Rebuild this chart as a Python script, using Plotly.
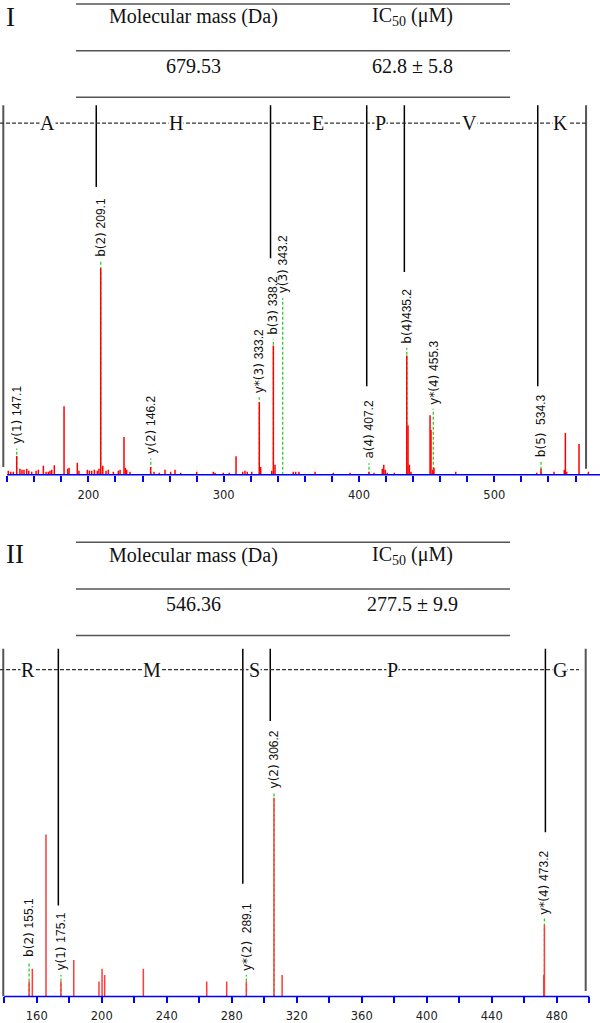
import plotly.graph_objects as go

W, H = 600, 1023

# ---------------- Panel I data ----------------
peaks1_mz = [140.8, 142.6, 144.5, 147.0, 149.4, 150.9, 152.4, 154.4, 155.9, 158.1, 161.3, 163.0,
             166.7, 168.7, 170.4, 171.6, 172.9, 174.8, 182.0, 184.7, 185.7, 191.8, 193.0, 199.2,
             200.7, 202.4, 204.4, 206.6, 207.8, 209.1, 210.6, 213.0, 214.7, 218.4, 222.1, 223.4,
             226.3, 227.3, 228.3, 230.7, 246.0, 248.5, 252.4, 256.6, 260.8, 264.0, 268.2, 280.0,
             292.3, 293.6, 299.7, 304.1, 309.1, 314.0, 315.7, 317.4, 320.7, 326.3, 327.3, 335.5,
             336.7, 337.9, 351.4, 353.2, 355.6, 367.5, 381.0, 393.4, 407.4, 411.1, 417.2, 418.3,
             419.4, 420.9, 426.1, 435.3, 436.2, 437.2, 438.4, 452.5, 453.2, 454.5, 455.4, 471.5,
             531.3, 534.5, 544.1, 551.7, 552.5, 553.5, 562.6, 569.5]
peaks1_int = [1.9, 1.4, 1.4, 9.1, 2.9, 2.4, 2.4, 2.9, 1.9, 1.4, 1.9, 2.4,
              4.3, 1.4, 1.4, 1.9, 2.4, 4.6, 33.2, 2.9, 3.4, 5.8, 1.9, 2.4,
              1.9, 1.9, 2.4, 1.9, 2.9, 100.0, 4.3, 1.9, 2.4, 1.4, 1.9, 2.4,
              18.3, 3.4, 2.4, 1.4, 3.8, 1.4, 1.0, 2.4, 1.4, 2.4, 1.0, 1.4,
              1.4, 1.0, 1.0, 1.0, 8.9, 1.4, 1.9, 1.4, 1.4, 35.1, 3.8, 1.9,
              62.5, 4.8, 1.4, 1.4, 1.4, 1.4, 1.0, 1.0, 1.5, 1.0, 2.9, 4.8,
              2.4, 1.0, 1.0, 57.7, 24.0, 4.8, 1.4, 28.8, 21.6, 2.4, 3.4, 1.4,
              1.0, 2.9, 1.4, 2.4, 20.2, 1.4, 14.9, 1.4]

ann1_ion = ["y(1)", "b(2)", "y(2)", "y*(3)", "b(3)", "y(3)", "a(4)", "b(4)", "y*(4)", "b(5)"]
ann1_val = ["147.1", "209.1", "146.2", "333.2", "338.2", "343.2", "407.2", "435.2", "455.3", "534.3"]
ann1_mz = [147.0, 209.1, 246.1, 326.3, 336.7, 343.6, 407.4, 435.3, 454.9, 534.5]

frag1_mz = [205.8, 334.6, 405.7, 433.5, 532.1]
border1_mz = [137.1, 567.8]
residues1 = ["A", "H", "E", "P", "V", "K"]
residue1_mz = [170.0, 264.7, 369.7, 416.2, 482.0, 548.6]
table1_head = ["Molecular mass (Da)", "IC<sub>50</sub> (μM)"]
table1_vals = ["679.53", "62.8 ± 5.8"]

# ---------------- Panel II data ----------------
peaks2_mz = [155.3, 157.3, 165.7, 174.9, 182.8, 198.3, 200.2, 201.8, 225.6, 264.6, 276.9,
             289.0, 306.0, 311.0, 472.0, 472.4]
peaks2_int = [7.5, 14.0, 81.5, 7.5, 18.3, 7.5, 14.0, 10.8, 14.0, 7.5, 7.5,
              7.5, 100.0, 10.8, 10.8, 35.8]

ann2_ion = ["b(2)", "y(1)", "y*(2)", "y(2)", "y*(4)"]
ann2_val = ["155.1", "175.1", "289.1", "306.2", "473.2"]
ann2_mz = [155.3, 174.9, 289.0, 306.0, 472.4]

frag2_mz = [173.3, 286.8, 303.7, 473.0]
border2_mz = [139.4, 497.8]
residues2 = ["R", "M", "S", "P", "G"]
residue2_mz = [154.8, 230.8, 293.7, 379.1, 482.0]
table2_head = ["Molecular mass (Da)", "IC<sub>50</sub> (μM)"]
table2_vals = ["546.36", "277.5 ± 9.9"]

# ---------------- layout (positions / styles) ----------------
P1 = dict(base=478.0, scale=2.08, ytop=180.0, xr=[134.66, 578.1], axis_end=578.1,
          label_lvl=[14.3, 105.1, 9.5, 39.1, 67.2, 87.2, 7.1, 63.1, 33.5, 7.8],
          sep=[" ", " ", " ", " ", " ", " ", " ", "", " ", "  "],
          frag_bottom=[139.3, 104.8, 42.8, 98.1, 42.8], frag_top=178.8,
          border_bottom=[3.8, 2.9], dash_y=170.2, dash_end=567.8,
          dtick=100, table_y=[4, 51, 98], head_y=17, val_y=66, roman="I", roman_y=17,
          peak_color="#ff0000")
P2 = dict(base=1003.3, scale=2.0, ytop=177.0, xr=[137.4, 506.6], axis_end=500.0,
          label_lvl=[19.2, 12.5, 12.5, 104.2, 40.8],
          sep=[" ", " ", "  ", " ", " "],
          frag_bottom=[45.8, 56.7, 138.7, 82.7], frag_top=175.0,
          border_bottom=[0.0, 2.7], dash_y=164.5, dash_end=493.7,
          dtick=40, table_y=[546, 593, 640], head_y=559, val_y=608, roman="II", roman_y=558,
          peak_color="#ff3b3b")

fig = go.Figure()
shapes = []
annotations = []

def py(px):
    return 1 - px / H

panels = [
    (P1, "x", "y", peaks1_mz, peaks1_int, ann1_ion, ann1_val, ann1_mz, frag1_mz, border1_mz,
     residues1, residue1_mz, table1_head, table1_vals),
    (P2, "x2", "y2", peaks2_mz, peaks2_int, ann2_ion, ann2_val, ann2_mz, frag2_mz, border2_mz,
     residues2, residue2_mz, table2_head, table2_vals),
]

for (P, xa, ya, pmz, pint, aion, aval, amz, fmz, bmz, res, resmz, thead, tvals) in panels:
    # green dashed guides (drawn under the red peaks)
    gx, gy = [], []
    for m, lv in zip(amz, P["label_lvl"]):
        gx += [m, m, None]
        gy += [0, lv - 1.6, None]
    fig.add_trace(go.Scatter(x=gx, y=gy, xaxis=xa, yaxis=ya, mode="lines",
                             line=dict(color="#2ecc2e", width=1.3, dash="3px,2px"),
                             hoverinfo="skip", showlegend=False))
    # peaks
    rx, ry = [], []
    for m, v in zip(pmz, pint):
        rx += [m, m, None]
        ry += [0, v, None]
    fig.add_trace(go.Scatter(x=rx, y=ry, xaxis=xa, yaxis=ya, mode="lines",
                             line=dict(color=P["peak_color"], width=1.5),
                             hoverinfo="skip", showlegend=False))
    # ion labels
    for ion, val, m, lv, sp in zip(aion, aval, amz, P["label_lvl"], P["sep"]):
        txt = f"{ion}{sp}<span style='font-family:Liberation Sans'>{val}</span>"
        annotations.append(dict(x=m, y=lv, xref=xa, yref=ya, text=txt, showarrow=False,
                                textangle=-90, xanchor="center", yanchor="bottom",
                                borderpad=0, font=dict(size=12, color="#111",
                                                       family="DejaVu Sans")))
    # fragment boundary lines
    for m, b in zip(fmz, P["frag_bottom"]):
        shapes.append(dict(type="line", xref=xa, yref=ya, x0=m, x1=m, y0=b, y1=P["frag_top"],
                           line=dict(color="#000", width=1.5)))
    # border lines
    for m, b in zip(bmz, P["border_bottom"]):
        shapes.append(dict(type="line", xref=xa, yref=ya, x0=m, x1=m, y0=b, y1=P["frag_top"],
                           line=dict(color="#555", width=2)))
    # dashed sequence line
    shapes.append(dict(type="line", xref=xa, yref=ya, x0=P["xr"][0], x1=P["dash_end"],
                       y0=P["dash_y"], y1=P["dash_y"],
                       line=dict(color="#333", width=1.3, dash="4px,2px")))
    for r, m in zip(res, resmz):
        annotations.append(dict(x=m, y=P["dash_y"], xref=xa, yref=ya, text=r, showarrow=False,
                                xanchor="center", yanchor="middle", bgcolor="white",
                                borderpad=0,
                                font=dict(size=20, color="#111", family="Liberation Serif")))
    # blue axis line
    shapes.append(dict(type="line", xref=xa, yref=ya + " domain", x0=140, x1=P["axis_end"],
                       y0=0, y1=0, line=dict(color="#0000ff", width=1.5)))
    # table
    for ty in P["table_y"]:
        shapes.append(dict(type="line", xref="paper", yref="paper", x0=76 / W, x1=510 / W,
                           y0=py(ty), y1=py(ty), line=dict(color="#555", width=1.5)))
    for txt, cx in zip(thead, [193, 412]):
        annotations.append(dict(x=cx / W, y=py(P["head_y"]), xref="paper", yref="paper",
                                text=txt, showarrow=False, xanchor="center", yanchor="middle",
                                font=dict(size=20, color="#111", family="Liberation Serif")))
    for txt, cx in zip(tvals, [193, 412]):
        annotations.append(dict(x=cx / W, y=py(P["val_y"]), xref="paper", yref="paper",
                                text=txt, showarrow=False, xanchor="center", yanchor="middle",
                                font=dict(size=20, color="#111", family="Liberation Serif")))
    annotations.append(dict(x=4 / W, y=py(P["roman_y"]), xref="paper", yref="paper",
                            text=P["roman"], showarrow=False, xanchor="left", yanchor="middle",
                            font=dict(size=27, color="#111", family="Liberation Serif")))


def xaxis(P, anchor):
    return dict(domain=[0, 1], anchor=anchor, range=P["xr"], showgrid=False, zeroline=False,
                showline=False, ticks="outside", ticklen=6, tickwidth=1.5, tickcolor="#0000ff",
                tick0=0, dtick=P["dtick"], ticklabelstandoff=3,
                minor=dict(ticks="outside", ticklen=6, tickwidth=1.5, tickcolor="#0000ff",
                           tick0=0, dtick=20, showgrid=False),
                tickfont=dict(family="DejaVu Sans", size=11.5, color="#222"), fixedrange=True)


def yaxis(P, anchor):
    lo = 1 - P["base"] / H
    hi = 1 - (P["base"] - P["ytop"] * P["scale"]) / H
    return dict(domain=[lo, hi], anchor=anchor, range=[0, P["ytop"]], visible=False,
                showgrid=False, zeroline=False, fixedrange=True)


fig.update_layout(
    width=W, height=H, margin=dict(l=0, r=0, t=0, b=0),
    paper_bgcolor="white", plot_bgcolor="white", showlegend=False,
    xaxis=xaxis(P1, "y"), yaxis=yaxis(P1, "x"),
    xaxis2=xaxis(P2, "y2"), yaxis2=yaxis(P2, "x2"),
    shapes=shapes, annotations=annotations,
)

fig.write_html(
    "out.html",
    config={"displayModeBar": False},
    post_script="document.body.style.margin='0';"
                "document.documentElement.style.overflow='hidden';"
                "document.body.style.overflow='hidden';",
)
